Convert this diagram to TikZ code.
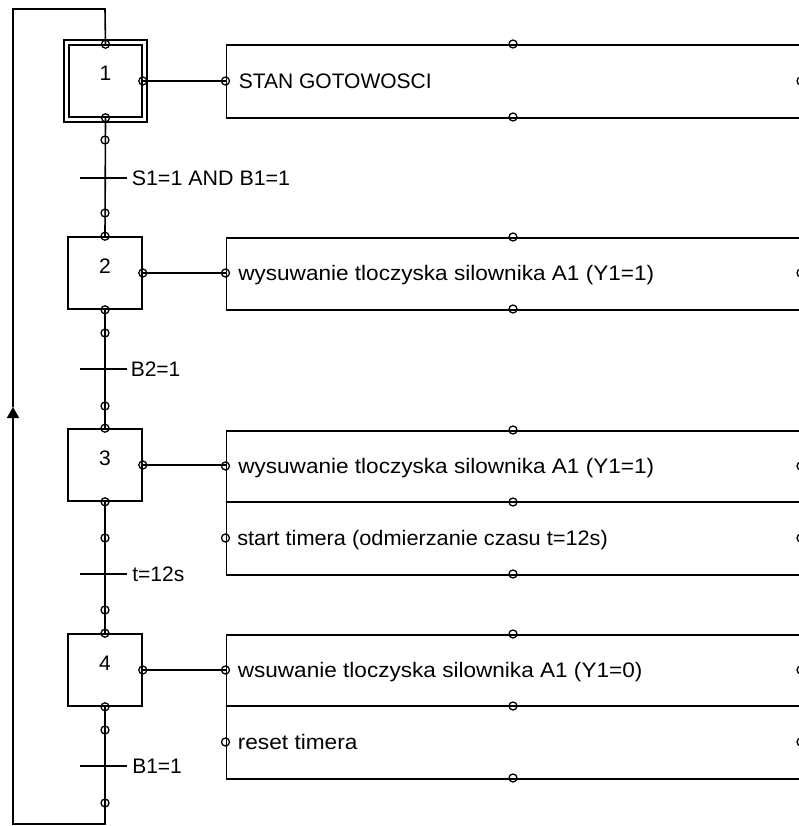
\documentclass[tikz,border=0pt]{standalone}
\usepackage{fontspec}
\setmainfont{Liberation Sans}
\usetikzlibrary{arrows.meta,calc}
\begin{document}
\begin{tikzpicture}[x=1pt,y=-1pt, line width=1.6pt,
  stepbox/.style={draw, rectangle, minimum width=74pt, minimum height=72pt, inner sep=0pt},
  port/.style={circle, draw, line width=1.3pt, minimum size=8pt, inner sep=0pt},
  lbl/.style={font=\fontsize{21}{24}\selectfont, inner sep=0pt, anchor=base west},
  num/.style={font=\fontsize{21}{24}\selectfont, inner sep=0pt},
  act/.style={draw, rectangle, inner sep=0pt, anchor=north west, minimum width=620pt},
  bar/.style={line width=1.6pt}]
\clip (0,0) rectangle (799,826);
% steps
\node[stepbox, minimum width=73pt] (s1) at (105.5,81) {};
\draw ($(s1.north west)+(-4,-4)$) rectangle ($(s1.south east)+(4,4)$);
\node[stepbox] (s2) at (105,273) {};
\node[stepbox] (s3) at (105,465) {};
\node[stepbox] (s4) at (105,670) {};
\node[num] (n1) at ($(s1)+(0,-8)$) {1};
\node[num] (n2) at ($(s2)+(0,-7)$) {2};
\node[num] (n3) at ($(s3)+(0,-7)$) {3};
\node[num] (n4) at ($(s4)+(0,-7)$) {4};
% action boxes
\node[act, minimum height=73pt] (a1) at (225.5,44) {};
\node[act, minimum height=72pt] (a2) at (225.5,237) {};
\node[act, minimum height=144pt] (a3) at (225.5,430) {};
\node[act, minimum height=144pt] (a4) at (225.5,634) {};
\draw (225.5,502) -- (830,502);
\draw (225.5,706) -- (830,706);
% action texts
\node[lbl] (x1) at (238,88.5) {STAN GOTOWOSCI};
\node[lbl] (x2) at (237.5,280.5) {\scalebox{1.075}[1]{wysuwanie tloczyska silownika A1 (Y1=1)}};
\node[lbl] (x3) at (237.5,473.5) {\scalebox{1.075}[1]{wysuwanie tloczyska silownika A1 (Y1=1)}};
\node[lbl] (x4) at (236.5,545.5) {\scalebox{1.036}[1]{start timera (odmierzanie czasu t=12s)}};
\node[lbl] (x5) at (237,677.5) {\scalebox{1.075}[1]{wsuwanie tloczyska silownika A1 (Y1=0)}};
\node[lbl] (x6) at (237,749.5) {\scalebox{1.08}[1]{reset timera}};
% step to action links
\draw (s1.east) -- (s1.east -| a1.west);
\draw (s2.east) -- (s2.east -| a2.west);
\draw (s3.east) -- (s3.east -| a3.west);
\draw (s4.east) -- (s4.east -| a4.west);
% transitions
\coordinate (t1) at (105,178);
\coordinate (t2) at (105,369);
\coordinate (t3) at (105,574);
\coordinate (t4) at (105,766);
\draw (s1.south) -- (s2.north);
\draw (s2.south) -- (s3.north);
\draw (s3.south) -- (s4.north);
\foreach \t in {t1,t2,t3,t4}{
  \draw[bar] ($(\t)+(-25,0)$) -- ($(\t)+(22,0)$);
}
\node[lbl] (c1) at (131,185.5) {\scalebox{1.02}[1]{S1=1 AND B1=1}};
\node[lbl] (c2) at (130,376.5) {B2=1};
\node[lbl] (c3) at (131.5,581.5) {t=12s};
\node[lbl] (c4) at (131.5,773.5) {B1=1};
% loop
\coordinate (lb) at (105,824);
\coordinate (ll) at (13,824);
\coordinate (la) at (13,407);
\coordinate (lt) at (13,9);
\coordinate (rt) at (105,9);
\draw[-{Triangle[length=11pt,width=12pt]}] (s4.south) -- (lb) -- (ll) -- (la);
\draw (la) -- (lt) -- (rt) -- (s1.north);
% ports
\foreach \p [count=\i] in {s1.north,s1.south,s1.east,s2.north,s2.south,s2.east,s3.north,s3.south,s3.east,s4.north,s4.south,s4.east}{
  \node[port] (ps\i) at (\p) {};
}
\foreach \y [count=\i] in {140,213,333,406,538,610,730,803}{
  \node[port] (pc\i) at (105,\y) {};
}
\foreach \y [count=\i] in {81,273,466,538,670,742}{
  \node[port] (pl\i) at (225.5,\y) {};
  \node[port] (pr\i) at (801,\y) {};
}
\foreach \y [count=\i] in {44,117,237,309,430,502,574,634,706,778}{
  \node[port] (pt\i) at (513,\y) {};
}
\end{tikzpicture}
\end{document}
